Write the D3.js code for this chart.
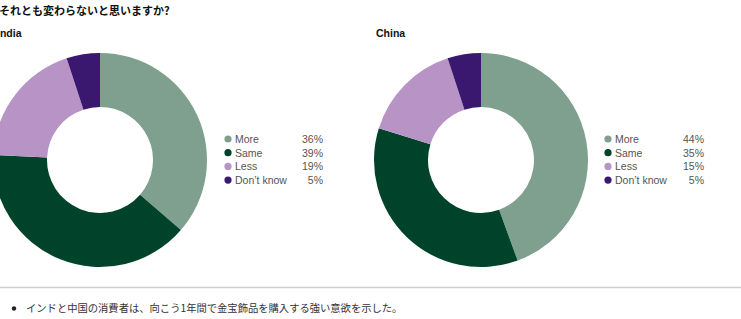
<!DOCTYPE html>
<html>
<head>
<meta charset="utf-8">
<script src="https://cdn.jsdelivr.net/npm/d3@7"></script>
<style>
	body { margin: 0; background: #fff; }
	svg { display: block; font-family: "Liberation Sans", Arial, "Noto Sans CJK JP", sans-serif; }
	.jp { font-family: "Noto Sans CJK JP", sans-serif; }
</style>
</head>
<body>
<div id="chart"></div>
<script>
	var categories = ["More", "Same", "Less", "Don\u2019t know"],
		indiaValues = [36, 39, 19, 5],
		chinaValues = [44, 35, 15, 5],
		colors = ["#7fa08e", "#00432b", "#b894c6", "#3b1870"],
		titleText = "それとも変わらないと思いますか?",
		noteText = "インドと中国の消費者は、向こう1年間で金宝飾品を購入する強い意欲を示した。";

	var width = 741,
		height = 319,
		outerR = 107,
		innerR = 53;

	var svg = d3.select("#chart")
		.append("svg")
		.attr("width", width)
		.attr("height", height);

	svg.append("text")
		.attr("class", "jp")
		.attr("x", -1)
		.attr("y", 14.5)
		.attr("font-size", 11)
		.attr("font-weight", "bold")
		.attr("fill", "#111")
		.text(titleText);

	var pie = d3.pie().sort(null).value(function(d) { return d; }),
		arc = d3.arc().innerRadius(innerR).outerRadius(outerR),
		color = d3.scaleOrdinal().domain(categories).range(colors);

	function donut(name, values, cx, labelX, legendX, pctX) {
		svg.append("text")
			.attr("x", labelX)
			.attr("y", 37)
			.attr("font-size", 10.5)
			.attr("font-weight", "bold")
			.attr("fill", "#111")
			.text(name);

		var g = svg.append("g")
			.attr("transform", "translate(" + cx + ",160)");

		g.selectAll("path")
			.data(pie(values))
			.enter().append("path")
			.attr("d", arc)
			.attr("fill", function(d, i) { return color(categories[i]); });

		var legend = svg.append("g")
			.attr("transform", "translate(" + legendX + ",139)");

		var rows = legend.selectAll("g")
			.data(categories)
			.enter().append("g")
			.attr("transform", function(d, i) { return "translate(0," + (i * 13.7) + ")"; });

		rows.append("circle")
			.attr("r", 3.6)
			.attr("fill", function(d) { return color(d); });

		rows.append("text")
			.attr("x", 7)
			.attr("y", 3.8)
			.attr("font-size", 10.5)
			.attr("fill", "#555")
			.text(function(d) { return d; });

		rows.append("text")
			.attr("x", pctX - legendX)
			.attr("y", 3.8)
			.attr("font-size", 10.5)
			.attr("fill", "#555")
			.attr("text-anchor", "end")
			.text(function(d, i) { return values[i] + "%"; });
	}

	donut("India", indiaValues, 100, -3, 228, 323);
	donut("China", chinaValues, 481, 376, 608, 704);

	svg.append("line")
		.attr("x1", 0)
		.attr("x2", width)
		.attr("y1", 287.5)
		.attr("y2", 287.5)
		.attr("stroke", "#cfcfcf")
		.attr("stroke-width", 1.5);

	svg.append("circle")
		.attr("cx", 14)
		.attr("cy", 308.5)
		.attr("r", 2.2)
		.attr("fill", "#222");

	svg.append("text")
		.attr("class", "jp")
		.attr("x", 26)
		.attr("y", 312)
		.attr("font-size", 10.3)
		.attr("fill", "#333")
		.text(noteText);
</script>
</body>
</html>
